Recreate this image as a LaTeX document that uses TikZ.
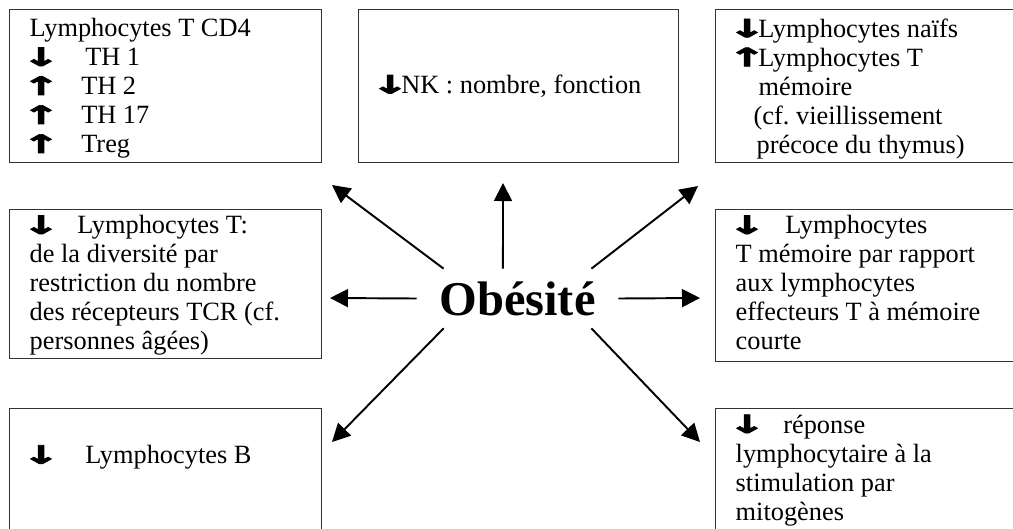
\documentclass[tikz,border=0pt]{standalone}
\usepackage{fontspec}
\setmainfont{Liberation Serif}
\newfontfamily\arrowfont[BoldFeatures={FakeBold=2.5}]{DejaVu Sans}
\usetikzlibrary{arrows.meta}
\newcommand{\fbas}{\leavevmode\kern-4.5pt\smash{\scalebox{1.45}[0.8]{\arrowfont\bfseries\fontsize{18}{18}\selectfont ↓}}\kern-4.5pt}
\newcommand{\fhaut}{\leavevmode\kern-4.5pt\smash{\scalebox{1.45}[0.8]{\arrowfont\bfseries\fontsize{18}{18}\selectfont ↑}}\kern-4.5pt}
\frenchspacing

\begin{document}
\begin{tikzpicture}
		[	x=0.02cm, y=-0.02cm,
		box/.style n args={3}{rectangle,draw=black!80,line width=0.8pt,anchor=north west,
			inner xsep=0.4cm,inner ysep=0.18cm,font=\fontsize{15}{16.5}\selectfont,
			execute at begin node={\begin{minipage}[c][#2][#3]{#1}\raggedright},
			execute at end node={\end{minipage}}},
		title/.style={draw=none,fill=none,font=\fontsize{27.6}{30}\selectfont\bfseries,
			minimum width=4.02cm,minimum height=1.18cm,inner sep=0pt},
		fleche/.style={->,line width=1.1pt,>={Triangle[length=0.36cm,width=0.36cm]}}
		]
		\useasboundingbox (0,0) rectangle (1013,528);
		\clip (0,0) rectangle (1013,528);

		\node[box={5.44cm}{2.7cm}{t}] (cd4) at (9,9){Lymphocytes T CD4\\
			\fbas\hspace{0.66cm}TH 1\\
			\fhaut\hspace{0.58cm}TH 2\\
			\fhaut\hspace{0.58cm}TH 17\\
			\fhaut\hspace{0.58cm}Treg};
		\node[box={5.6cm}{2.7cm}{c}] (nk) at (358,9){\fbas NK : nombre, fonction};
		\node[box={5.5cm}{2.7cm}{t}] (naifs) at (715,9){\fbas Lymphocytes naïfs\\
			\fhaut Lymphocytes T\\
			\hspace*{0.46cm}mémoire\\
			\hspace*{0.36cm}(cf. vieillissement\\
			\hspace*{0.42cm}précoce du thymus)};
		\node[box={5.44cm}{2.74cm}{t},inner ysep=0.12cm] (tcr) at (9,209){\fbas\hspace{0.5cm}Lymphocytes T:\\
			de la diversité par\\
			restriction du nombre\\
			des récepteurs TCR (cf.\\
			personnes âgées)};
		\node[box={5.5cm}{2.8cm}{t},inner ysep=0.12cm] (effect) at (715,209){\fbas\hspace{0.54cm}Lymphocytes\\
			T mémoire par rapport\\
			aux lymphocytes\\
			effecteurs T à mémoire\\
			courte};
		\node[box={5.44cm}{2.6cm}{t}] (lb) at (9,408){\rule{0pt}{0.34cm}\\
			\fbas\hspace{0.66cm}Lymphocytes B};
		\node[box={5.5cm}{2.6cm}{t},inner ysep=0.12cm] (mitog) at (715,408){\fbas\hspace{0.5cm}réponse\\
			lymphocytaire à la\\
			stimulation par\\
			mitogènes};

		\node[title] (ob) at (517.5,298.5){Obésité};

\coordinate (p1) at (332,185);
\coordinate (p2) at (503,183);
\coordinate (p3) at (698,186);
\coordinate (p4) at (330,298);
\coordinate (p5) at (700,298);
\coordinate (p6) at (332,442);
\coordinate (p7) at (700,442);
		\draw[fleche] (ob.158) -- (p1);
		\draw[fleche] (ob.116) -- (p2);
		\draw[fleche] (ob.22) -- (p3);
		\draw[fleche] (ob.west) -- (p4);
		\draw[fleche] (ob.east) -- (p5);
		\draw[fleche] (ob.202) -- (p6);
		\draw[fleche] (ob.338) -- (p7);
	\end{tikzpicture}
\end{document}
